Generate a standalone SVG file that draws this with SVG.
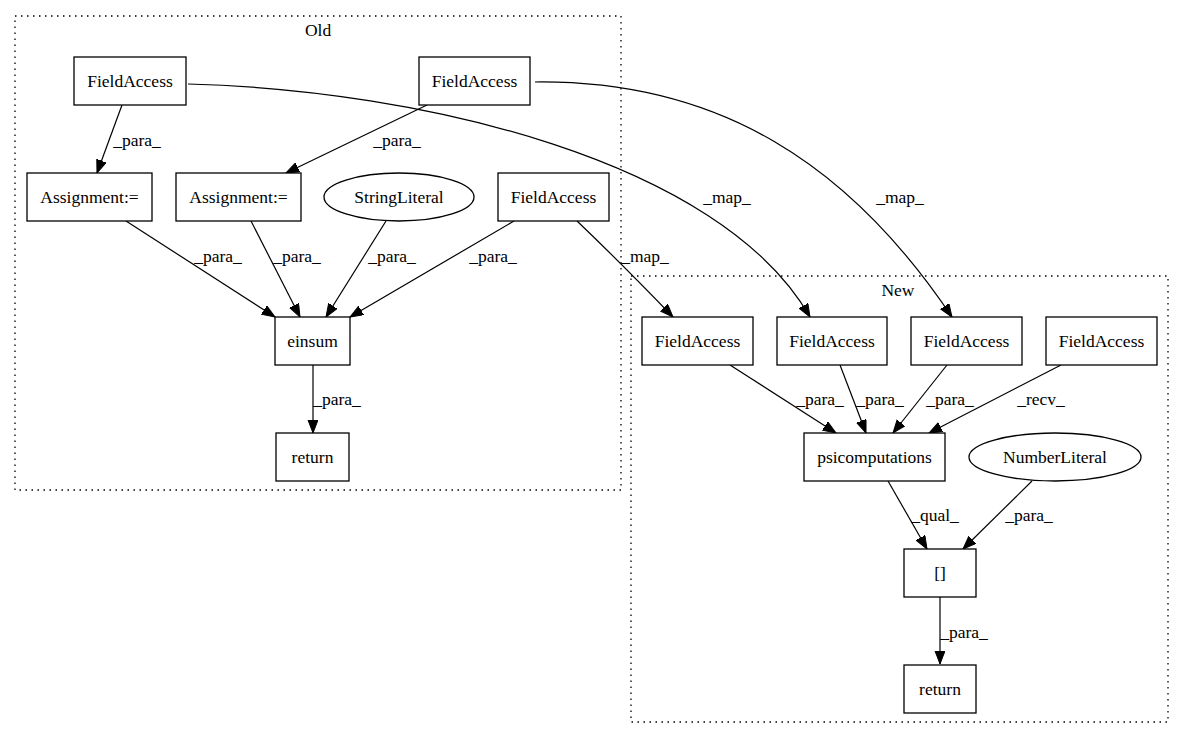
<svg xmlns="http://www.w3.org/2000/svg" width="1184" height="740" viewBox="0 0 1184 740">
<defs>
<marker id="arr" markerWidth="14" markerHeight="12" refX="13" refY="5" orient="auto" markerUnits="userSpaceOnUse">
<path d="M0,0 L13,5 L0,10 z" fill="#000" stroke="#000" stroke-width="1"/>
</marker>
<style>
text{font-family:'Liberation Serif','Times New Roman',Times,'DejaVu Serif','Noto Serif',serif;font-size:17.5px;fill:#000;text-anchor:middle}
.n rect,.n ellipse{fill:#fff;stroke:#000;stroke-width:1.3}
.cl{fill:none;stroke:#000;stroke-width:1.3;stroke-dasharray:1.5,4.5}
.e path{fill:none;stroke:#000;stroke-width:1.2;marker-end:url(#arr)}
</style>
</defs>
<rect width="1184" height="740" fill="#fff"/>
<g id="cluster_old">
<rect class="cl" x="15" y="16" width="606" height="474"/>
<text x="318" y="36" font-family="Liberation Serif, serif">Old</text>
</g>
<g id="cluster_new">
<rect class="cl" x="631" y="276" width="537" height="446"/>
<text x="898" y="296" font-family="Liberation Serif, serif">New</text>
</g>
<g id="edges" class="e">
<path d="M122,105 L97,173"/>
<path d="M427,105 L286,173"/>
<path d="M126,221 L275,317"/>
<path d="M251,221 L300,317"/>
<path d="M386,221 L326,317"/>
<path d="M514,221 L350,317"/>
<path d="M313,365 L313,433"/>
<path d="M577,221 Q620,262 673,317"/>
<path d="M188,84 C420,90 720,160 810,317"/>
<path d="M535,82 C720,80 850,165 952,317"/>
<path d="M730,365 L836,433"/>
<path d="M840,365 L866,433"/>
<path d="M947,365 L893,433"/>
<path d="M1061,365 L929,433"/>
<path d="M888,481 L927,549"/>
<path d="M1032,481 L963,549"/>
<path d="M940,597 L940,664"/>
</g>
<g id="edge_labels" font-family="Liberation Serif, serif">
<text x="137" y="146">_para_</text>
<text x="397" y="146">_para_</text>
<text x="218" y="262">_para_</text>
<text x="297" y="262">_para_</text>
<text x="392" y="262">_para_</text>
<text x="493" y="262">_para_</text>
<text x="337" y="405">_para_</text>
<text x="645" y="262">_map_</text>
<text x="727" y="203">_map_</text>
<text x="900" y="203">_map_</text>
<text x="820" y="405">_para_</text>
<text x="880" y="405">_para_</text>
<text x="950" y="405">_para_</text>
<text x="1041" y="405">_recv_</text>
<text x="935" y="521">_qual_</text>
<text x="1029" y="521">_para_</text>
<text x="964" y="638">_para_</text>
</g>
<g id="old_fa1" class="n"><rect x="74" y="57" width="112" height="48"/><text x="130" y="87">FieldAccess</text></g>
<g id="old_fa2" class="n"><rect x="419" y="57" width="111" height="48"/><text x="474.5" y="87">FieldAccess</text></g>
<g id="old_assign1" class="n"><rect x="27" y="173" width="125" height="48"/><text x="89.5" y="203">Assignment:=</text></g>
<g id="old_assign2" class="n"><rect x="176" y="173" width="125" height="48"/><text x="238.5" y="203">Assignment:=</text></g>
<g id="old_string" class="n"><ellipse cx="399" cy="197" rx="75" ry="24"/><text x="399" y="203">StringLiteral</text></g>
<g id="old_fa3" class="n"><rect x="498" y="173" width="111" height="48"/><text x="553.5" y="203">FieldAccess</text></g>
<g id="old_einsum" class="n"><rect x="275" y="317" width="75" height="48"/><text x="312.5" y="347">einsum</text></g>
<g id="old_return" class="n"><rect x="276" y="433" width="73" height="48"/><text x="312.5" y="463">return</text></g>
<g id="new_fa1" class="n"><rect x="642" y="317" width="111" height="48"/><text x="697.5" y="347">FieldAccess</text></g>
<g id="new_fa2" class="n"><rect x="777" y="317" width="110" height="48"/><text x="832" y="347">FieldAccess</text></g>
<g id="new_fa3" class="n"><rect x="911" y="317" width="111" height="48"/><text x="966.5" y="347">FieldAccess</text></g>
<g id="new_fa4" class="n"><rect x="1046" y="317" width="111" height="48"/><text x="1101.5" y="347">FieldAccess</text></g>
<g id="new_psi" class="n"><rect x="804" y="433" width="141" height="48"/><text x="874.5" y="463">psicomputations</text></g>
<g id="new_number" class="n"><ellipse cx="1055" cy="457" rx="86" ry="24"/><text x="1055" y="463">NumberLiteral</text></g>
<g id="new_index" class="n"><rect x="904" y="549" width="72" height="48"/><text x="940" y="579">[]</text></g>
<g id="new_return" class="n"><rect x="904" y="665" width="72" height="48"/><text x="940" y="695">return</text></g>
</svg>
